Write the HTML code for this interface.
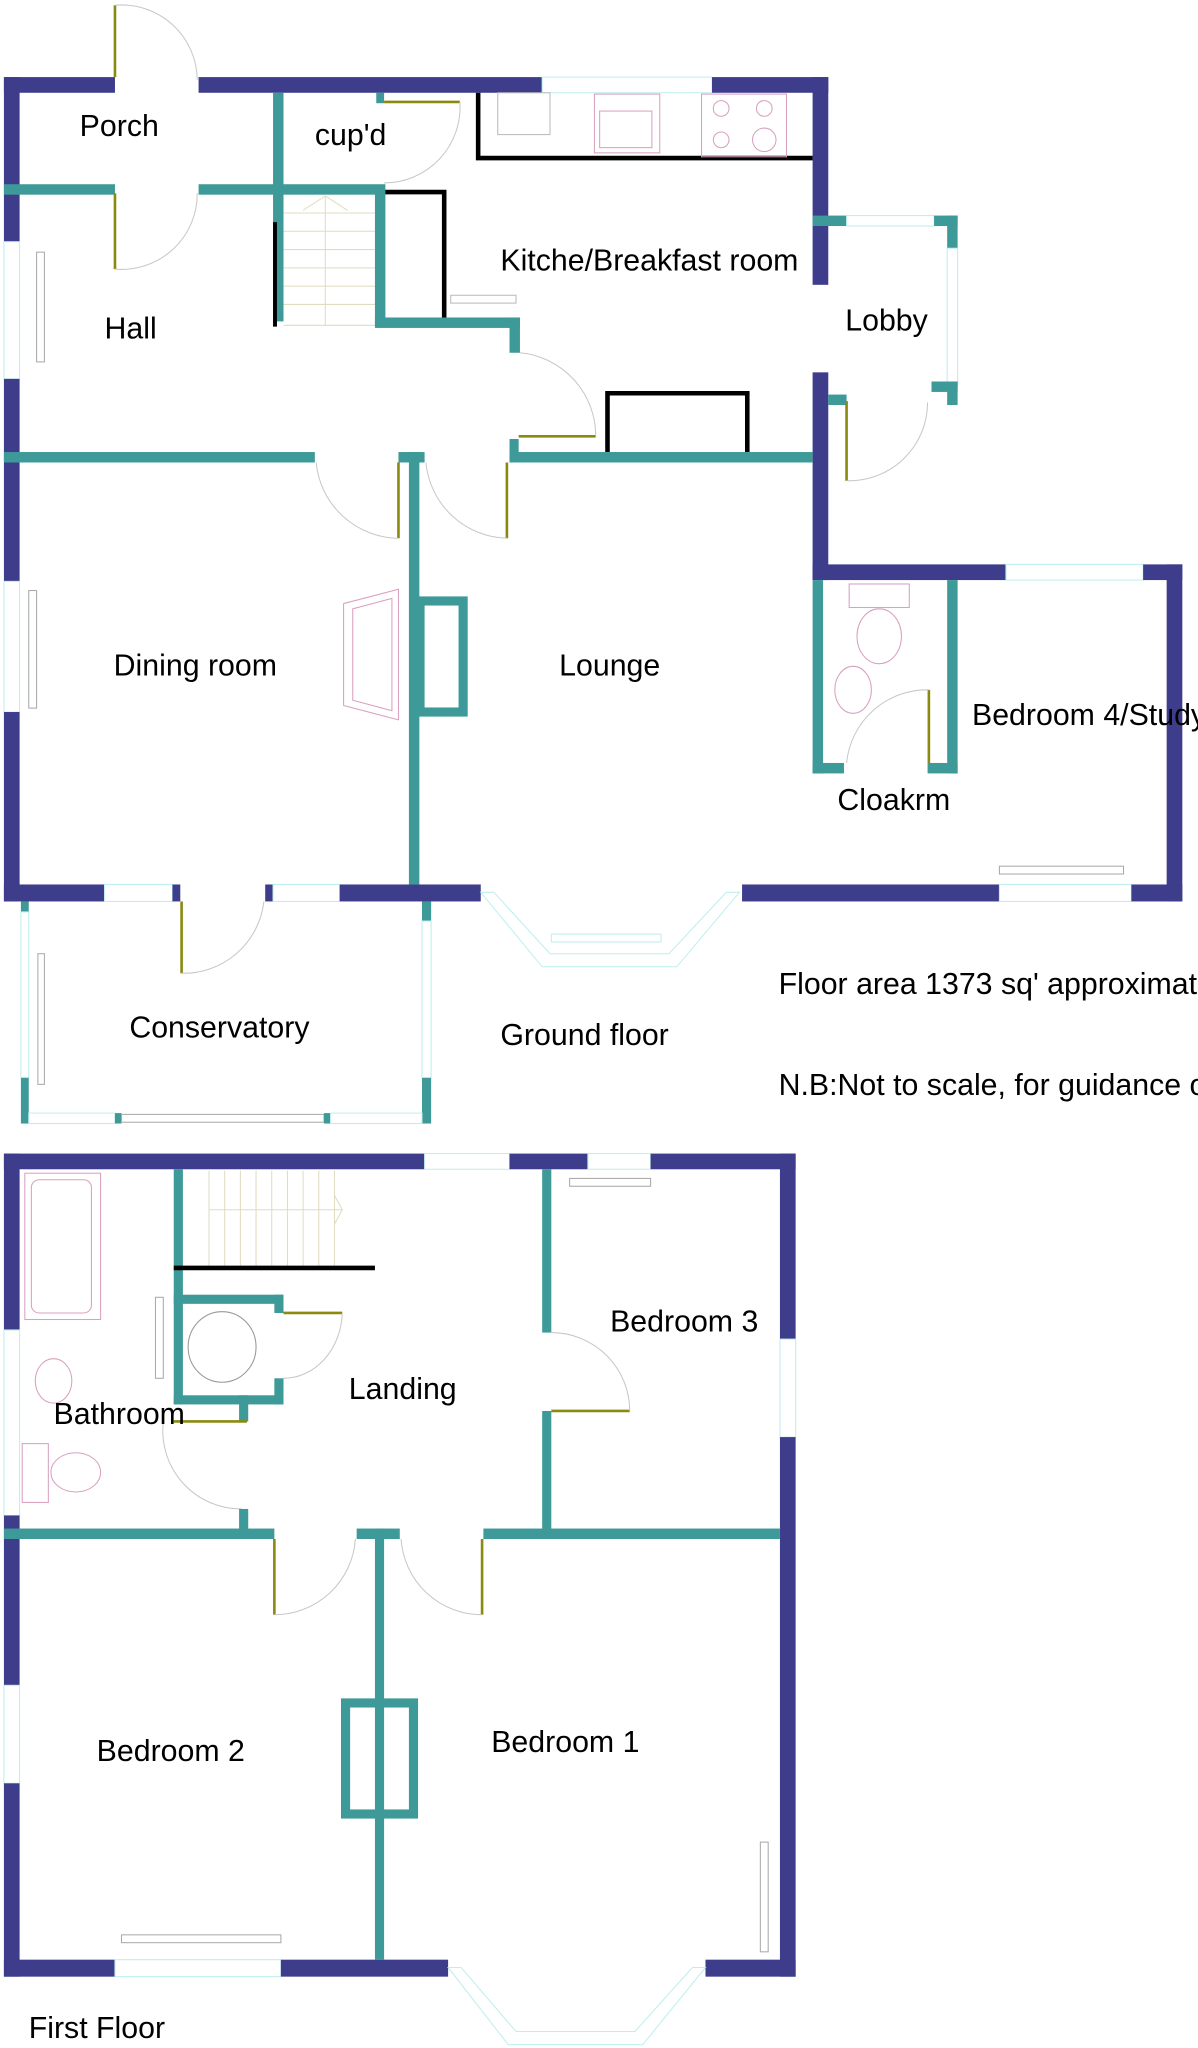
<!DOCTYPE html>
<html><head><meta charset="utf-8"><style>
html,body{margin:0;padding:0;background:#fff}
svg{display:block}
text{font-family:"Liberation Sans",Arial,sans-serif;font-size:23.2px;fill:#000}
.w{fill:#3d3d8c}
.t{fill:#3e9a98}
.win{fill:#fff;stroke:#bfeeee;stroke-width:0.8}
.arc{fill:none;stroke:#c8c8c8;stroke-width:0.8}
.leaf{stroke:#8a8a10;stroke-width:2}
.blk{fill:none;stroke:#000;stroke-width:3.5}
.fx{fill:none;stroke:#d9a0c0;stroke-width:0.8}
.st{stroke:#e0dcc0;stroke-width:0.8}
</style></head><body>
<svg width="1198" height="2048" viewBox="0 0 917 1567.6" xmlns="http://www.w3.org/2000/svg">
<rect class="w" x="3" y="59" width="85" height="12"/>
<rect class="w" x="152" y="59" width="263" height="12"/>
<rect class="win" x="415" y="59" width="130" height="12"/>
<rect class="w" x="545" y="59" width="89" height="12"/>
<rect class="w" x="622" y="59" width="12" height="159"/>
<rect class="w" x="622" y="285" width="12" height="159"/>
<rect class="w" x="622" y="432" width="148" height="12"/>
<rect class="win" x="770" y="432" width="105" height="12"/>
<rect class="w" x="875" y="432" width="30" height="12"/>
<rect class="w" x="893" y="432" width="12" height="258"/>
<rect class="w" x="3" y="59" width="12" height="126"/>
<rect class="win" x="3" y="185" width="12" height="105"/>
<rect class="w" x="3" y="290" width="12" height="155"/>
<rect class="win" x="3" y="445" width="12" height="100"/>
<rect class="w" x="3" y="545" width="12" height="145"/>
<rect class="w" x="3" y="677" width="77" height="13"/>
<rect class="win" x="80" y="677" width="52" height="13"/>
<rect class="w" x="132" y="677" width="6" height="13"/>
<rect class="w" x="203" y="677" width="6" height="13"/>
<rect class="win" x="209" y="677" width="51" height="13"/>
<rect class="w" x="260" y="677" width="108" height="13"/>
<rect class="w" x="568" y="677" width="197" height="13"/>
<rect class="win" x="765" y="677" width="101" height="13"/>
<rect class="w" x="866" y="677" width="39" height="13"/>
<polygon class="win" points="368,683 378,683 421,730 512,730 556,683 566,683 518,740 415,740"/>
<rect class="win" x="422" y="715" width="84" height="6"/>
<rect class="t" x="622" y="165" width="26" height="8"/>
<rect class="win" x="648" y="165" width="67" height="8"/>
<rect class="t" x="715" y="165" width="18" height="8"/>
<rect class="t" x="725" y="165" width="8" height="25"/>
<rect class="win" x="725" y="190" width="8" height="105"/>
<rect class="t" x="725" y="292" width="8" height="18"/>
<rect class="t" x="713" y="292" width="20" height="8"/>
<rect class="t" x="634" y="302" width="14" height="8"/>
<line class="leaf" x1="648" y1="307" x2="648" y2="368"/>
<path class="arc" d="M648,368 A60,60 0 0 0 710,308"/>
<rect class="t" x="3" y="141" width="85" height="8"/>
<rect class="t" x="152" y="141" width="143" height="8"/>
<rect class="t" x="209" y="71" width="8" height="175"/>
<line class="leaf" x1="88" y1="4" x2="88" y2="59"/>
<path class="arc" d="M88,4 A58,58 0 0 1 151,61"/>
<line class="leaf" x1="88" y1="148" x2="88" y2="206"/>
<path class="arc" d="M88,206 A58,58 0 0 0 151,148"/>
<rect class="t" x="288" y="71" width="6" height="8"/>
<line class="leaf" x1="294" y1="78" x2="352" y2="78"/>
<path class="arc" d="M352,78 A58,58 0 0 1 294,140"/>
<g class="st">
<line x1="217" y1="163" x2="287" y2="163"/><line x1="217" y1="177" x2="287" y2="177"/><line x1="217" y1="191" x2="287" y2="191"/>
<line x1="217" y1="205" x2="287" y2="205"/><line x1="217" y1="219" x2="287" y2="219"/><line x1="217" y1="233" x2="287" y2="233"/>
<line x1="217" y1="249" x2="287" y2="249"/><line x1="249" y1="150" x2="249" y2="249"/>
<polyline fill="none" points="232,161 249,150 266,161"/>
</g>
<line x1="210.5" y1="170" x2="210.5" y2="250" stroke="#000" stroke-width="3"/>
<rect class="t" x="287" y="145" width="8" height="105"/>
<rect class="t" x="287" y="243" width="111" height="8"/>
<rect class="t" x="390" y="243" width="8" height="27"/>
<polyline class="blk" points="295,147 340,147 340,243"/>
<rect class="fx" x="345" y="226" width="50" height="6" style="stroke:#bbb"/>
<polyline class="blk" points="366,71 366,121 622,121"/>
<rect class="fx" x="381" y="71" width="40" height="32" style="stroke:#bbb"/>
<rect class="fx" x="455" y="72" width="50" height="45"/>
<rect class="fx" x="459" y="85" width="40" height="28"/>
<rect class="fx" x="537" y="72" width="65" height="48"/>
<circle class="fx" cx="552" cy="83" r="6"/><circle class="fx" cx="585" cy="83" r="6"/>
<circle class="fx" cx="552" cy="107" r="6"/><circle class="fx" cx="585" cy="107" r="9"/>
<rect class="t" x="3" y="346" width="238" height="8"/>
<rect class="t" x="305" y="346" width="20" height="8"/>
<rect class="t" x="313" y="346" width="8" height="331"/>
<rect class="t" x="390" y="346" width="232" height="8"/>
<rect class="t" x="390" y="336" width="7" height="18"/>
<polyline class="blk" points="465,346 465,301 572,301 572,346"/>
<line class="leaf" x1="397" y1="334" x2="456" y2="334"/>
<path class="arc" d="M398,270 A64,64 0 0 1 456,334"/>
<line class="leaf" x1="305" y1="354" x2="305" y2="412"/>
<path class="arc" d="M242,354 A64,64 0 0 0 305,412"/>
<line class="leaf" x1="388" y1="354" x2="388" y2="412"/>
<path class="arc" d="M326,354 A64,64 0 0 0 388,412"/>
<rect x="321.5" y="460" width="33" height="85" fill="none" stroke="#3e9a98" stroke-width="7"/>
<polygon class="fx" points="305,451 263,462 263,540 305,551"/>
<polygon class="fx" points="300,458 270,466 270,536 300,544"/>
<rect class="win" x="22" y="452" width="6" height="90" style="stroke:#aaa"/>
<rect class="win" x="28" y="193" width="6" height="84" style="stroke:#aaa"/>
<rect class="t" x="622" y="444" width="8" height="148"/>
<rect class="t" x="622" y="584" width="24" height="8"/>
<rect class="t" x="725" y="444" width="8" height="148"/>
<rect class="t" x="710" y="584" width="23" height="8"/>
<line class="leaf" x1="711" y1="528" x2="711" y2="584"/>
<path class="arc" d="M711,528 A62,62 0 0 0 648,584"/>
<rect class="fx" x="650" y="447" width="46" height="18"/>
<ellipse class="fx" cx="673" cy="487" rx="17" ry="21"/>
<ellipse class="fx" cx="653" cy="528" rx="14" ry="18"/>
<rect class="win" x="765" y="663" width="95" height="6" style="stroke:#aaa"/>
<rect class="t" x="16" y="690" width="6" height="8"/>
<rect class="win" x="16" y="698" width="6" height="127"/>
<rect class="t" x="16" y="825" width="6" height="35"/>
<rect class="win" x="29" y="730" width="5" height="100" style="stroke:#aaa"/>
<rect class="t" x="323" y="690" width="7" height="15"/>
<rect class="win" x="323" y="705" width="7" height="120"/>
<rect class="t" x="323" y="825" width="7" height="35"/>
<rect class="win" x="22" y="852" width="66" height="8"/>
<rect class="t" x="88" y="852" width="5" height="8"/>
<rect class="win" x="93" y="853" width="155" height="6" style="stroke:#aaa"/>
<rect class="t" x="248" y="852" width="5" height="8"/>
<rect class="win" x="253" y="852" width="70" height="8"/>
<line class="leaf" x1="139" y1="690" x2="139" y2="745"/>
<path class="arc" d="M139,745 A62,62 0 0 0 202,690"/>
<text x="61" y="104">Porch</text>
<text x="241" y="111">cup'd</text>
<text x="80" y="259">Hall</text>
<text x="383" y="207">Kitche/Breakfast room</text>
<text x="647" y="253">Lobby</text>
<text x="87" y="517">Dining room</text>
<text x="428" y="517">Lounge</text>
<text x="744" y="555">Bedroom 4/Study</text>
<text x="641" y="620">Cloakrm</text>
<text x="99" y="794">Conservatory</text>
<text x="383" y="800">Ground floor</text>
<text x="596" y="761">Floor area 1373 sq' approximately</text>
<text x="596" y="838">N.B:Not to scale, for guidance only</text>

<rect class="w" x="3" y="883" width="322" height="12"/>
<rect class="win" x="325" y="883" width="65" height="12"/>
<rect class="w" x="390" y="883" width="60" height="12"/>
<rect class="win" x="450" y="883" width="48" height="12"/>
<rect class="w" x="498" y="883" width="111" height="12"/>
<rect class="w" x="597" y="883" width="12" height="142"/>
<rect class="win" x="597" y="1025" width="12" height="75"/>
<rect class="w" x="597" y="1100" width="12" height="413"/>
<rect class="w" x="3" y="883" width="12" height="135"/>
<rect class="win" x="3" y="1018" width="12" height="142"/>
<rect class="w" x="3" y="1160" width="12" height="130"/>
<rect class="win" x="3" y="1290" width="12" height="75"/>
<rect class="w" x="3" y="1365" width="12" height="148"/>
<rect class="w" x="3" y="1500" width="85" height="13"/>
<rect class="win" x="88" y="1500" width="127" height="13"/>
<rect class="w" x="215" y="1500" width="128" height="13"/>
<rect class="w" x="540" y="1500" width="69" height="13"/>
<polygon class="win" points="343,1506 353,1506 395,1555 486,1555 530,1506 540,1506 492,1565 389,1565"/>
<rect class="fx" x="19" y="898" width="58" height="112"/>
<rect class="fx" x="24" y="903" width="46" height="102" rx="6"/>
<rect class="win" x="119" y="993" width="6" height="62" style="stroke:#aaa"/>
<ellipse class="fx" cx="41" cy="1057" rx="14" ry="17"/>
<rect class="fx" x="17" y="1105" width="20" height="45"/>
<ellipse class="fx" cx="58" cy="1127" rx="19" ry="15"/>
<rect class="t" x="133" y="895" width="7" height="180"/>
<g class="st">
<line x1="160" y1="896" x2="160" y2="969"/><line x1="172" y1="896" x2="172" y2="969"/><line x1="184" y1="896" x2="184" y2="969"/>
<line x1="196" y1="896" x2="196" y2="969"/><line x1="208" y1="896" x2="208" y2="969"/><line x1="220" y1="896" x2="220" y2="969"/>
<line x1="232" y1="896" x2="232" y2="969"/><line x1="244" y1="896" x2="244" y2="969"/><line x1="256" y1="896" x2="256" y2="969"/>
<line x1="160" y1="926" x2="262" y2="926"/><polyline fill="none" points="256,915 262,926 256,937"/>
</g>
<line x1="133" y1="970.5" x2="287" y2="970.5" stroke="#000" stroke-width="3.5"/>
<rect class="t" x="133" y="991" width="84" height="7"/>
<rect class="t" x="210" y="991" width="7" height="14"/>
<rect class="t" x="133" y="1068" width="84" height="7"/>
<rect class="t" x="210" y="1055" width="7" height="20"/>
<rect class="t" x="183" y="1068" width="7" height="20"/>
<ellipse class="fx" cx="170" cy="1031" rx="26" ry="27" style="stroke:#999"/>
<line class="leaf" x1="217" y1="1005" x2="262" y2="1005"/>
<path class="arc" d="M262,1005 A45,52 0 0 1 217,1055"/>
<line class="leaf" x1="133" y1="1088" x2="189" y2="1088"/>
<path class="arc" d="M125,1088 A60,60 0 0 0 185,1155"/>
<rect class="t" x="183" y="1155" width="7" height="18"/>
<rect class="t" x="415" y="895" width="7" height="125"/>
<rect class="t" x="415" y="1080" width="7" height="98"/>
<line class="leaf" x1="422" y1="1080" x2="482" y2="1080"/>
<path class="arc" d="M422,1020 A60,60 0 0 1 482,1080"/>
<rect class="win" x="436" y="902" width="62" height="6" style="stroke:#aaa"/>
<rect class="t" x="3" y="1170" width="207" height="8"/>
<rect class="t" x="273" y="1170" width="33" height="8"/>
<rect class="t" x="370" y="1170" width="227" height="8"/>
<rect class="t" x="287" y="1170" width="7" height="330"/>
<rect x="264.5" y="1303.5" width="52" height="85" fill="none" stroke="#3e9a98" stroke-width="7"/>
<line class="leaf" x1="210" y1="1178" x2="210" y2="1236"/>
<path class="arc" d="M210,1236 A62,62 0 0 0 272,1178"/>
<line class="leaf" x1="369" y1="1178" x2="369" y2="1236"/>
<path class="arc" d="M307,1178 A62,62 0 0 0 369,1236"/>
<rect class="win" x="93" y="1481" width="122" height="6" style="stroke:#aaa"/>
<rect class="win" x="582" y="1410" width="6" height="84" style="stroke:#aaa"/>
<text x="467" y="1019">Bedroom 3</text>
<text x="267" y="1071">Landing</text>
<text x="41" y="1090">Bathroom</text>
<text x="74" y="1348">Bedroom 2</text>
<text x="376" y="1341">Bedroom 1</text>
<text x="22" y="1560">First Floor</text>
</svg>
</body></html>
